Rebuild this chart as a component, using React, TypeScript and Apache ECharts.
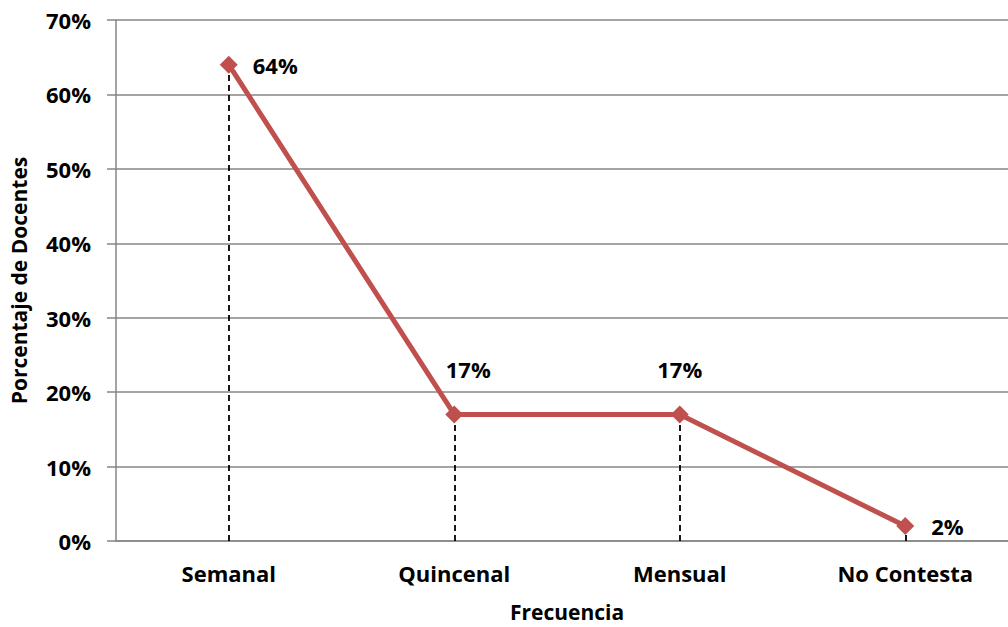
import React, { useEffect, useRef } from "react";
import * as echarts from "echarts";

const categories = ["Semanal", "Quincenal", "Mensual", "No Contesta"];
const values = [64, 17, 17, 2];
const yTicks = [0, 10, 20, 30, 40, 50, 60, 70];

const FONT = "'Open Sans', 'Noto Sans', sans-serif";
const RED = "#C0504D";

export default function App() {
  const ref = useRef<HTMLDivElement>(null);

  useEffect(() => {
    if (!ref.current) return;
    const chart = echarts.init(ref.current, undefined, { renderer: "svg" });

    const labelPos = [
      { position: "right", distance: 15 },
      { position: "top", offset: [14, -20] },
      { position: "top", offset: [0, -20] },
      { position: "right", distance: 17 },
    ];

    const text = { fontFamily: FONT, fontWeight: "bold", color: "#000" };

    chart.setOption({
      animation: false,
      grid: {
        left: 116,
        top: 20,
        bottom: 86,
        width: 902,
        containLabel: false,
        outerBoundsMode: "none",
      },
      xAxis: {
        type: "category",
        data: categories,
        boundaryGap: true,
        name: "Frecuencia",
        nameLocation: "middle",
        nameGap: 60,
        nameMoveOverlap: false,
        nameTextStyle: { ...text, fontSize: 21 },
        axisLine: { lineStyle: { color: "#868686", width: 1.5 } },
        axisTick: { show: false },
        axisLabel: { ...text, fontSize: 22, margin: 21 },
      },
      yAxis: {
        type: "value",
        min: yTicks[0],
        max: yTicks[yTicks.length - 1],
        interval: 10,
        name: "Porcentaje de Docentes",
        nameLocation: "middle",
        nameGap: 87,
        nameMoveOverlap: false,
        nameTextStyle: { ...text, fontSize: 21 },
        axisLine: { show: true, lineStyle: { color: "#868686", width: 1.5 } },
        axisTick: { show: true, length: 9, lineStyle: { color: "#868686", width: 1.5 } },
        splitLine: { lineStyle: { color: "#868686", width: 1.5 } },
        axisLabel: {
          ...text,
          fontSize: 22,
          margin: 25,
          formatter: (v: number) => `${v}%`,
        },
      },
      series: [
        {
          type: "line",
          data: values.map((v, i) => ({
            value: v,
            label: {
              show: true,
              ...labelPos[i],
              formatter: `${v}%`,
              ...text,
              fontSize: 22,
            },
          })),
          lineStyle: { color: RED, width: 5 },
          itemStyle: { color: RED },
          symbol: "diamond",
          symbolSize: 18,
          z: 3,
          markLine: {
            silent: true,
            symbol: "none",
            label: { show: false },
            lineStyle: { color: "#000", type: [6, 4], width: 1.8 },
            z: 2,
            data: values.map((v, i) => [
              { coord: [categories[i], 0] },
              { coord: [categories[i], v] },
            ]),
          },
        },
      ],
    });

    return () => chart.dispose();
  }, []);

  return (
    <div
      ref={ref}
      style={{ position: "absolute", left: 0, top: 0, width: 1008, height: 627 }}
    />
  );
}
